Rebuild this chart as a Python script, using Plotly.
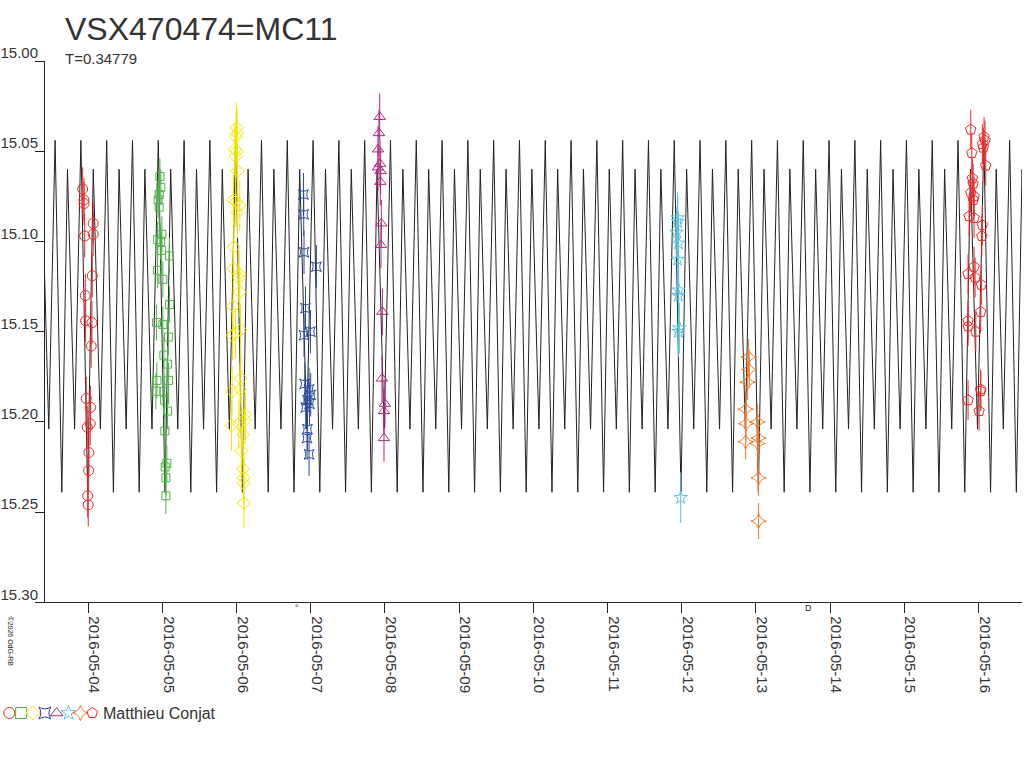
import numpy as np
import pandas as pd
import plotly.graph_objects as go

JD_ZERO = 2457500.0      # all times are JD - 2457500
PERIOD = 0.34779
EPOCH = 17.270           # a primary maximum of the fitted curve

# one cycle of the fitted light curve (phase, mag)
curve_phase = [0.0, 0.26, 0.48, 0.755]
curve_mag = [15.044, 15.239, 15.060, 15.204]

t_range = [11.917, 25.088]

# night 2016-05-03/04, red circles
t_red = [12.425, 12.442, 12.444, 12.567, 12.452, 12.567, 12.554, 12.460, 12.465, 12.550,
         12.540, 12.473, 12.532, 12.527, 12.487, 12.509, 12.505, 12.492, 12.500]
m_red = [15.071, 15.077, 15.079, 15.090, 15.097, 15.096, 15.119, 15.130, 15.144, 15.145,
         15.158, 15.187, 15.192, 15.201, 15.203, 15.217, 15.227, 15.241, 15.246]
err_red = 0.012

# night 2016-05-04/05, green squares
t_green = [13.466, 13.479, 13.456, 13.443, 13.456, 13.493, 13.435, 13.475, 13.489, 13.596,
           13.435, 13.506, 13.596, 13.421, 13.506, 13.583, 13.520, 13.569, 13.425, 13.583,
           13.412, 13.524, 13.529, 13.569, 13.533, 13.560, 13.537, 13.547, 13.547]
m_green = [15.064, 15.070, 15.074, 15.077, 15.081, 15.096, 15.099, 15.100, 15.105, 15.108,
           15.116, 15.121, 15.135, 15.145, 15.146, 15.153, 15.163, 15.168, 15.177, 15.177,
           15.183, 15.183, 15.188, 15.194, 15.205, 15.223, 15.225, 15.231, 15.241]
err_green = 0.010

# night 2016-05-05/06, yellow diamonds
t_yellow = [14.499, 14.493, 14.507, 14.476, 14.503, 14.489, 14.512, 14.458, 14.489, 14.543,
            14.512, 14.462, 14.458, 14.534, 14.530, 14.543, 14.453, 14.553, 14.485, 14.445,
            14.557, 14.547, 14.439, 14.615, 14.615, 14.530, 14.431, 14.588, 14.566, 14.588,
            14.597, 14.597, 14.597]
m_yellow = [15.037, 15.042, 15.040, 15.049, 15.050, 15.053, 15.061, 15.077, 15.078, 15.080,
            15.084, 15.103, 15.115, 15.118, 15.120, 15.128, 15.136, 15.149, 15.151, 15.152,
            15.176, 15.182, 15.183, 15.196, 15.199, 15.201, 15.202, 15.207, 15.216, 15.226,
            15.231, 15.234, 15.245]
err_yellow = 0.014

# night 2016-05-06/07, blue
t_blue = [15.401, 15.405, 15.409, 15.576, 15.429, 15.409, 15.495, 15.419, 15.477, 15.499,
          15.455, 15.432, 15.482, 15.455, 15.450, 15.477]
m_blue = [15.074, 15.085, 15.106, 15.114, 15.137, 15.152, 15.150, 15.179, 15.182, 15.185,
          15.188, 15.192, 15.190, 15.204, 15.209, 15.218]
err_blue = 0.012

# night 2016-05-07/08, magenta triangles
t_mag = [16.429, 16.419, 16.406, 16.433, 16.406, 16.442, 16.438, 16.451, 16.446, 16.465,
         16.460, 16.500, 16.487, 16.487]
m_mag = [15.031, 15.040, 15.049, 15.057, 15.059, 15.061, 15.067, 15.090, 15.102, 15.139,
         15.176, 15.190, 15.194, 15.209]
err_mag = 0.013

# night 2016-05-11/12, cyan stars
t_cyan = [20.446, 20.446, 20.433, 20.456, 20.446, 20.460, 20.456, 20.469, 20.456, 20.487]
m_cyan = [15.087, 15.089, 15.095, 15.101, 15.110, 15.127, 15.130, 15.148, 15.150, 15.242]
err_cyan = 0.014

# night 2016-05-12/13, orange
t_orange = [21.402, 21.411, 21.389, 21.362, 21.367, 21.524, 21.537, 21.524, 21.362, 21.537,
            21.537]
m_orange = [15.164, 15.171, 15.178, 15.193, 15.201, 15.200, 15.209, 15.212, 15.211, 15.231,
            15.255]
err_orange = 0.010

# night 2016-05-15/16, red pentagons
t_pent = [24.397, 24.577, 24.590, 24.554, 24.567, 24.411, 24.599, 24.419, 24.429, 24.397,
          24.442, 24.433, 24.375, 24.442, 24.554, 24.546, 24.442, 24.361, 24.456, 24.540,
          24.532, 24.361, 24.361, 24.465, 24.532, 24.532, 24.361, 24.510]
m_pent = [15.038, 15.042, 15.044, 15.046, 15.048, 15.051, 15.058, 15.065, 15.068, 15.073,
          15.075, 15.077, 15.086, 15.087, 15.091, 15.097, 15.114, 15.118, 15.120, 15.124,
          15.139, 15.144, 15.147, 15.150, 15.182, 15.183, 15.188, 15.194]
err_pent = 0.011

moon_dates = ["2016-05-06 19:29", "2016-05-13 17:02"]
moon_marks = ["°", "D"]

FONT = "Liberation Sans, Arial, sans-serif"
TXT = "#333333"

W, H = 1024, 768
TOP, BOT = 61, 20
PH = H - TOP - BOT


def px(x):
    # screen x pixel -> paper fraction
    return x / W


def py(y):
    # screen y pixel -> paper fraction
    return (H - BOT - y) / PH


def to_date(t):
    return pd.to_datetime(np.asarray(t) + JD_ZERO - 2440587.5, unit="D")


series = [
    (t_red, m_red, err_red, "circle-open", "#f02828", 10),
    (t_green, m_green, err_green, "square-open", "#4cb444", 8),
    (t_yellow, m_yellow, err_yellow, "diamond-open", "#f5e400", 10),
    (t_blue, m_blue, err_blue, "star-square-open", "#2a4a9e", 9),
    (t_mag, m_mag, err_mag, "triangle-up-open", "#b02a80", 10),
    (t_cyan, m_cyan, err_cyan, "star-open", "#5ac4dc", 10),
    (t_orange, m_orange, err_orange, "star-diamond-open", "#f07a28", 11),
    (t_pent, m_pent, err_pent, "pentagon-open", "#f02828", 11),
]

fig = go.Figure()

# fitted curve, repeating the cycle over the whole date range
k0 = int(np.floor((t_range[0] - EPOCH) / PERIOD)) - 1
k1 = int(np.ceil((t_range[1] - EPOCH) / PERIOD)) + 1
cycles = np.arange(k0, k1 + 1)
t_curve = EPOCH + (cycles[:, None] + np.array(curve_phase)[None, :]) * PERIOD
m_curve = np.tile(curve_mag, len(cycles))
fig.add_trace(go.Scatter(x=to_date(t_curve.ravel()), y=m_curve, mode="lines",
                         line=dict(color="#222222", width=1), showlegend=False,
                         hoverinfo="skip"))

for t, m, err, sym, col, size in series:
    fig.add_trace(go.Scatter(
        x=to_date(t), y=m, mode="markers",
        marker=dict(symbol=sym, size=size, color=col, line=dict(width=1, color=col)),
        error_y=dict(type="data", array=[err] * len(m), color=col, thickness=1, width=0),
        showlegend=False))

# legend row of symbols at the bottom left
fig.add_trace(go.Scatter(
    x=list(range(len(series))), y=[0] * len(series), mode="markers",
    marker=dict(symbol=[s[3] for s in series], color=[s[4] for s in series], size=11,
                line=dict(width=1, color=[s[4] for s in series])),
    xaxis="x2", yaxis="y2", showlegend=False, hoverinfo="skip"))

fig.update_layout(
    width=W, height=H,
    margin=dict(l=0, r=0, t=TOP, b=BOT, autoexpand=False),
    paper_bgcolor="white", plot_bgcolor="white",
    font=dict(family=FONT, color=TXT),
    showlegend=False,
    xaxis=dict(
        domain=[px(45), px(1022)], automargin=False,
        range=[to_date(t_range[0]), to_date(t_range[1])],
        type="date", tick0="2016-05-04", dtick=86400000, tickformat="%Y-%m-%d",
        tickangle=90, ticks="outside", ticklen=10, tickcolor="#222222",
        ticklabelshift=6,
        showline=True, linecolor="#222222", linewidth=1,
        showgrid=False, zeroline=False,
        tickfont=dict(size=15, color=TXT, family=FONT),
    ),
    yaxis=dict(
        domain=[py(602.3), 1], automargin=False,
        range=[15.30, 15.00], tick0=15.0, dtick=0.05, tickformat=".2f",
        ticks="outside", ticklen=9, tickcolor="#222222", tickwidth=1,
        ticklabelshift=8, ticklabelstandoff=-6,
        showline=True, linecolor="#222222", linewidth=1,
        showgrid=False, zeroline=False,
        tickfont=dict(size=15, color=TXT, family=FONT),
    ),
    xaxis2=dict(domain=[0, 0.25], range=[-0.785, 20.82], visible=False, anchor="y2"),
    yaxis2=dict(domain=[py(748), py(678)], range=[-1, 1], visible=False, anchor="x2"),
)

fig.add_annotation(text="VSX470474=MC11", xref="paper", yref="paper",
                   x=px(63), y=py(29), xanchor="left", yanchor="middle",
                   showarrow=False, font=dict(size=32, color=TXT, family=FONT))
fig.add_annotation(text="T=%.5f" % PERIOD, xref="paper", yref="paper",
                   x=px(63), y=py(58), xanchor="left", yanchor="middle",
                   showarrow=False, font=dict(size=15, color=TXT, family=FONT))
fig.add_annotation(text="Matthieu Conjat", xref="paper", yref="paper",
                   x=px(101), y=py(713), xanchor="left", yanchor="middle",
                   showarrow=False, font=dict(size=16, color=TXT, family=FONT))
fig.add_annotation(text="©2026 OdG-RB", xref="paper", yref="paper",
                   x=px(5), y=py(668), textangle=90,
                   showarrow=False, font=dict(size=7, color="#222222", family=FONT))
for d, mk in zip(moon_dates, moon_marks):
    fig.add_annotation(text=mk, xref="x", yref="paper", x=d, y=py(615),
                       showarrow=False, font=dict(size=9, color="#222222", family=FONT))

# drop the browser's default 8px body margin so the figure starts at the corner
fig.write_html("out.html", config={"displayModeBar": False},
               post_script="document.body.style.margin = '0';")
